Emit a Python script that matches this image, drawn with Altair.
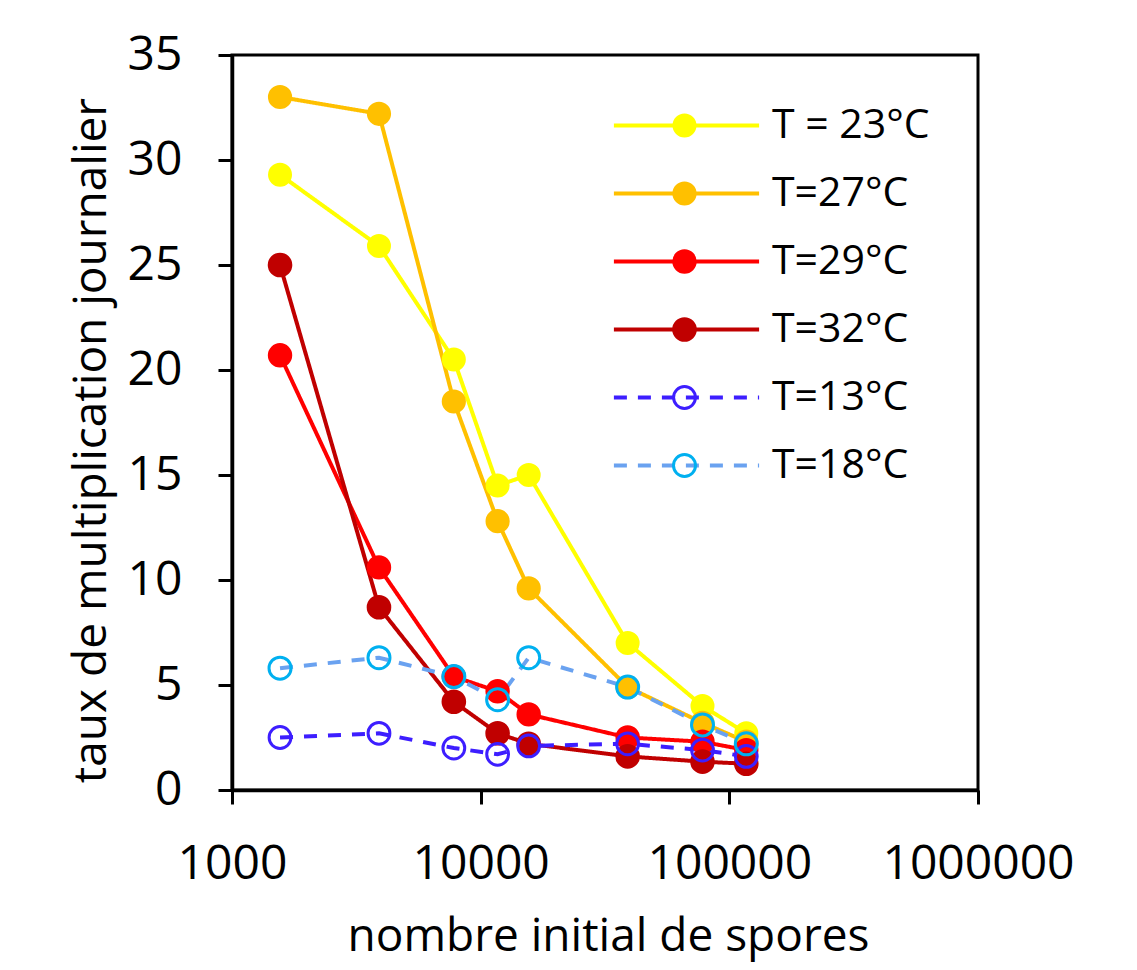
import altair as alt
import pandas as pd

# ---- data ----
spores = [1560, 3900, 7800, 11700, 15600, 39000, 78000, 117000]
series = ["T = 23°C", "T=27°C", "T=29°C", "T=32°C", "T=13°C", "T=18°C"]
t23 = [29.3, 25.9, 20.5, 14.5, 15.0, 7.0, 4.0, 2.7]
t27 = [33.0, 32.2, 18.5, 12.8, 9.6, 4.9, 3.2, 2.3]
t29 = [20.7, 10.6, 5.4, 4.7, 3.6, 2.5, 2.3, 1.9]
t32 = [25.0, 8.7, 4.2, 2.7, 2.2, 1.6, 1.35, 1.25]
t13 = [2.5, 2.7, 2.0, 1.7, 2.1, 2.2, 1.9, 1.6]
t18 = [5.8, 6.3, 5.4, 4.3, 6.3, 4.9, 3.1, 2.2]
x_ticks = [1000, 10000, 100000, 1000000]
y_ticks = [0, 5, 10, 15, 20, 25, 30, 35]

# ---- styles ----
line_colors = ["#FFFF00", "#FFC000", "#FF0000", "#C00000", "#3D1EFF", "#6AA2F0"]
marker_colors = ["#FFFF00", "#FFC000", "#FF0000", "#C00000", "#3D1EFF", "#00B0F0"]
fill_colors = ["#FFFF00", "#FFC000", "#FF0000", "#C00000", "transparent", "transparent"]
dashes = [[1, 0], [1, 0], [1, 0], [1, 0], [13, 11], [13, 11]]
marker_sizes = [441, 484, 441, 729, 600, 600]

rows = []
for name, vals in zip(series, [t23, t27, t29, t32, t13, t18]):
    for i, (xv, v) in enumerate(zip(spores, vals)):
        rows.append({"serie": name, "spores": xv, "taux": v, "ordre": i})
df = pd.DataFrame(rows)

FONT = "Open Sans"

common_leg = dict(
    orient="none", legendY=50, title=None,
    labelFont=FONT, labelFontSize=41, labelColor="black",
    rowPadding=26, labelOffset=65, labelLimit=0,
)
line_legend = alt.Legend(legendX=434, symbolType="M-6.6,0H6.6", symbolSize=484,
                         symbolStrokeWidth=4, **common_leg)
point_legend = alt.Legend(legendX=432, symbolType="circle", symbolStrokeWidth=3,
                          labelOpacity=0, **common_leg)

x_enc = alt.X(
    "spores:Q",
    scale=alt.Scale(type="log", domain=[1000, 1000000], nice=False),
    axis=alt.Axis(values=x_ticks, format="d", labelPadding=36, labelFlush=False,
                  labelOverlap=False, labelLimit=0, title="nombre initial de spores",
                  titleX=376, titleY=160, titleAlign="center", titleBaseline="alphabetic"),
)
y_enc = alt.Y(
    "taux:Q",
    scale=alt.Scale(domain=[0, 35], nice=False),
    axis=alt.Axis(values=y_ticks, labelPadding=36, labelFlush=False,
                  title="taux de multiplication journalier",
                  titleX=-127, titleY=385, titleAngle=270, titleAlign="center",
                  titleBaseline="alphabetic"),
)

lines = alt.Chart(df).mark_line(strokeWidth=4).encode(
    x=x_enc, y=y_enc,
    stroke=alt.Stroke("serie:N", scale=alt.Scale(domain=series, range=line_colors),
                      legend=line_legend),
    strokeDash=alt.StrokeDash("serie:N", scale=alt.Scale(domain=series, range=dashes),
                              legend=line_legend),
    order="ordre:Q",
)

points = alt.Chart(df).mark_point(shape="circle", strokeWidth=3, opacity=1).encode(
    x=x_enc, y=y_enc,
    stroke=alt.Stroke("serie:N", scale=alt.Scale(domain=series, range=marker_colors),
                      legend=point_legend),
    fill=alt.Fill("serie:N", scale=alt.Scale(domain=series, range=fill_colors),
                  legend=point_legend),
    size=alt.Size("serie:N", scale=alt.Scale(domain=series, range=marker_sizes),
                  legend=point_legend),
)

chart = (
    alt.layer(lines, points)
    .resolve_scale(stroke="independent", fill="independent",
                   strokeDash="independent", size="independent")
    .properties(
        width=746, height=735,
        padding={"left": 224, "top": 47, "right": 120, "bottom": 172},
        autosize=alt.AutoSizeParams(type="none"),
    )
    .configure_view(stroke="black", strokeWidth=3)
    .configure_axis(
        domainColor="black", domainWidth=3.5, tickColor="black", tickWidth=3,
        tickSize=14, grid=False, labelFont=FONT, labelFontSize=48, labelColor="black",
        titleFont=FONT, titleFontSize=46, titleFontWeight="normal", titleColor="black",
    )
)

chart.save("out.html", embed_options={"renderer": "svg", "actions": False})
